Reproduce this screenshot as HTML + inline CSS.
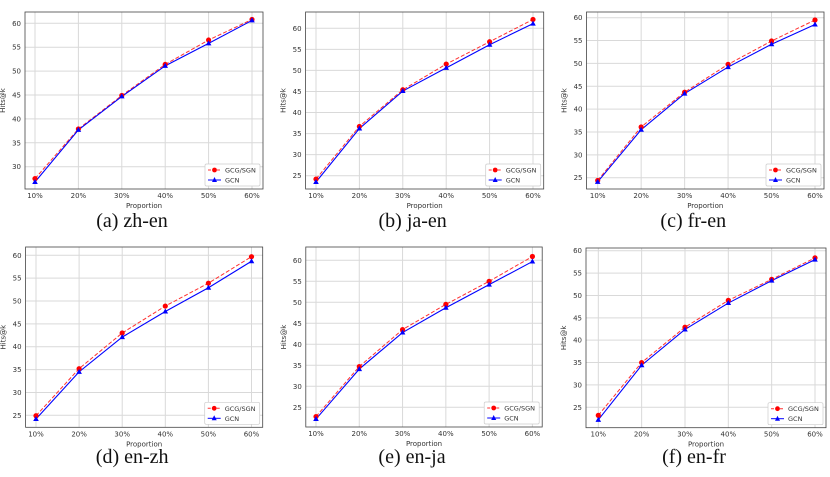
<!DOCTYPE html>
<html><head><meta charset="utf-8"><style>
html,body{margin:0;padding:0;background:#fff;}
svg{display:block;font-family:"DejaVu Sans","Liberation Sans",sans-serif;}
</style></head><body>
<svg id="fig" width="830" height="477" viewBox="0 0 830 477" xmlns="http://www.w3.org/2000/svg"></svg>
<script>
const categories = ["10%","20%","30%","40%","50%","60%"];
const captions = ["(a) zh-en","(b) ja-en","(c) fr-en","(d) en-zh","(e) en-ja","(f) en-fr"];
const gcgA = [27.5,37.9,44.9,51.4,56.5,60.8];
const gcnA = [26.8,37.7,44.7,51.1,55.8,60.6];
const gcgB = [24.2,36.7,45.4,51.5,56.8,62.1];
const gcnB = [23.5,36.2,45.1,50.6,56.1,61.1];
const gcgC = [24.4,36.1,43.7,49.8,54.9,59.5];
const gcnC = [24.1,35.5,43.4,49.2,54.2,58.5];
const gcgD = [24.9,35.2,43.0,48.9,53.9,59.7];
const gcnD = [24.2,34.5,42.1,47.7,52.9,58.7];
const gcgE = [22.8,34.7,43.5,49.5,55.0,60.9];
const gcnE = [22.2,34.1,42.8,48.7,54.2,59.7];
const gcgF = [23.2,35.0,42.9,48.9,53.6,58.4];
const gcnF = [22.2,34.4,42.4,48.3,53.3,58.0];
const yTicksA = [30,35,40,45,50,55,60];
const yTicksOther = [25,30,35,40,45,50,55,60];
const seriesNames = ["GCG/SGN","GCN"];

// layout (pixel geometry, not data)
const panels = [
 {g:gcgA,n:gcnA,t:yTicksA,L:25,R:263,T:12,B:189,x0:35,x1:252,ya:60,pa:23.3,yb:30,pb:166.7,cap:227},
 {g:gcgB,n:gcnB,t:yTicksOther,L:305.6,R:543.7,T:12,B:189,x0:316,x1:533,ya:60,pa:28.3,yb:25,pb:175.7,cap:227},
 {g:gcgC,n:gcnC,t:yTicksOther,L:586.5,R:824,T:12,B:189,x0:597.7,x1:815,ya:60,pa:17.7,yb:25,pb:177.7,cap:227},
 {g:gcgD,n:gcnD,t:yTicksOther,L:25.6,R:262.7,T:247,B:427.3,x0:36,x1:251.5,ya:60,pa:255.3,yb:25,pb:415.3,cap:463},
 {g:gcgE,n:gcnE,t:yTicksOther,L:305.8,R:542.2,T:247,B:427,x0:316,x1:532.4,ya:60,pa:260.3,yb:25,pb:407.3,cap:463},
 {g:gcgF,n:gcnF,t:yTicksOther,L:586,R:826,T:248,B:427.7,x0:598.3,x1:815,ya:60,pa:250.7,yb:25,pb:407.3,cap:463}
];
const NS="http://www.w3.org/2000/svg";
const svg=document.getElementById('fig');
function mk(tag,attrs,parent){const e=document.createElementNS(NS,tag);for(const k in attrs)e.setAttribute(k,attrs[k]);(parent||svg).appendChild(e);return e;}

panels.forEach((p,pi)=>{
  const grp=mk('g',{});
  
  
  const xs=i=>p.x0+(p.x1-p.x0)*i/(categories.length-1);
  const ys=v=>p.pa+(v-p.ya)*(p.pb-p.pa)/(p.yb-p.ya);
  p.t.forEach(v=>{
    const l=mk('line',{x1:p.L,x2:p.R,y1:ys(v),y2:ys(v),stroke:'#d9d9d9','stroke-width':1},grp);
    
    
    const tx=mk('text',{x:p.L-4,y:ys(v)+2.5,'font-size':7,'text-anchor':'end',fill:'#333'},grp);
    tx.textContent=v;
    
    
  });
  categories.forEach((c,i)=>{
    const l=mk('line',{x1:xs(i),x2:xs(i),y1:p.T,y2:p.B,stroke:'#d9d9d9','stroke-width':1},grp);
    
    
    const tx=mk('text',{x:xs(i),y:p.B+9,'font-size':7,'text-anchor':'middle',fill:'#333'},grp);
    tx.textContent=c;
    
    
  });
  const fr=mk('rect',{x:p.L,y:p.T,width:p.R-p.L,height:p.B-p.T,fill:'none',stroke:'#444','stroke-width':0.8},grp);
  
  
  const xl=mk('text',{x:(p.L+p.R)/2,y:p.B+19,'font-size':7,'text-anchor':'middle',fill:'#333'},grp);
  xl.textContent='Proportion';
  
  
  const yx=p.L-20, yy=(p.T+p.B)/2;
  const yl=mk('text',{x:yx,y:yy,'font-size':7,'text-anchor':'middle',fill:'#333',transform:`rotate(-90 ${yx} ${yy})`},grp);
  yl.textContent='Hits@k';
  
  
  const gpts=p.g.map((v,i)=>xs(i)+','+ys(v)).join(' ');
  const npts=p.n.map((v,i)=>xs(i)+','+ys(v)).join(' ');
  const gl=mk('polyline',{points:gpts,fill:'none',stroke:'#ff3030','stroke-width':1,'stroke-dasharray':'4,2'},grp);
  
  
  const nl=mk('polyline',{points:npts,fill:'none',stroke:'#0000ff','stroke-width':1.1},grp);
  
  
  p.g.forEach((v,i)=>{
    const c=mk('circle',{cx:xs(i),cy:ys(v),r:2.6,fill:'#ff0000'},grp);
    
    
  });
  p.n.forEach((v,i)=>{
    const x=xs(i),y=ys(v);
    const t=mk('polygon',{points:`${x},${y-3} ${x-2.8},${y+2} ${x+2.8},${y+2}`,fill:'#0000ff'},grp);
    
    
  });
  const lx=p.R-58, ly=p.B-25;
  const lg=mk('g',{},grp);
  
  
  mk('rect',{x:lx,y:ly,width:55,height:22,fill:'#fff',stroke:'#ccc','stroke-width':0.7,rx:1.5},lg);
  mk('line',{x1:lx+3,x2:lx+16,y1:ly+6,y2:ly+6,stroke:'#ff3030','stroke-width':1,'stroke-dasharray':'3,1.5'},lg);
  mk('circle',{cx:lx+9.5,cy:ly+6,r:2.4,fill:'#ff0000'},lg);
  const t1=mk('text',{x:lx+20,y:ly+8.5,'font-size':6.5,fill:'#333'},lg);t1.textContent=seriesNames[0];
  
  
  mk('line',{x1:lx+3,x2:lx+16,y1:ly+16,y2:ly+16,stroke:'#0000ff','stroke-width':1},lg);
  mk('polygon',{points:`${lx+9.5},${ly+13} ${lx+7},${ly+18} ${lx+12},${ly+18}`,fill:'#0000ff'},lg);
  const t2=mk('text',{x:lx+20,y:ly+18.5,'font-size':6.5,fill:'#333'},lg);t2.textContent=seriesNames[1];
  
  
  const cp=mk('text',{x:(p.L+p.R)/2-12,y:p.cap,'font-size':20,'text-anchor':'middle',fill:'#111','font-family':'"Liberation Serif",serif'},grp);
  cp.textContent=captions[pi];
  
  
});
</script>
</body></html>
